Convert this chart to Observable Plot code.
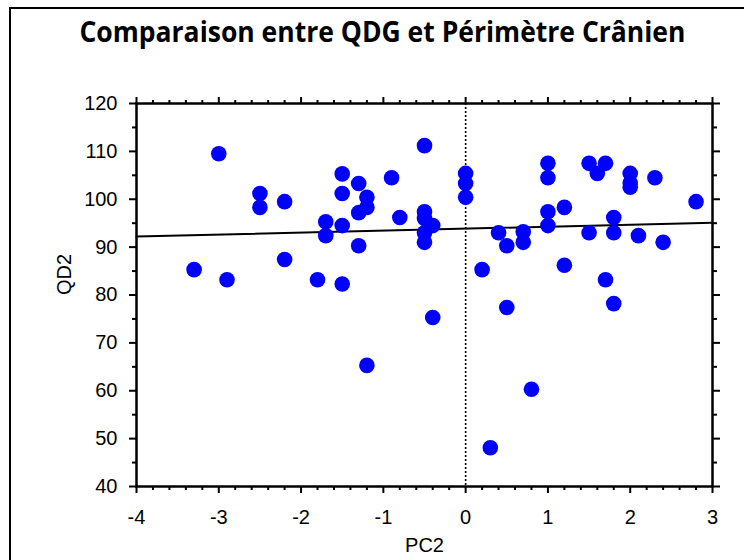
<!DOCTYPE html>
<html>
<head>
<meta charset="utf-8">
<script src="https://cdn.jsdelivr.net/npm/d3@7"></script>
<script src="https://cdn.jsdelivr.net/npm/@observablehq/plot@0.6"></script>
<style>
  html, body { margin: 0; padding: 0; background: #fff; overflow: hidden; }
  #wrap { position: relative; width: 744px; height: 560px; overflow: hidden; background: #fff; }
  #border { position: absolute; left: 9px; top: 7px; width: 900px; height: 700px; border-left: 2.5px solid #000; border-top: 2.5px solid #000; }
  #title { position: absolute; top: 13px; left: 0; width: 764px; text-align: center; white-space: nowrap;
           font-family: "Open Sans", sans-serif; font-weight: 700; font-size: 29px; line-height: 36px; color: #000; }
  #title span { display: inline-block; transform-origin: center; }
  #chart { position: absolute; left: 0; top: 62px; }
</style>
</head>
<body>
<div id="wrap">
  <div id="border"></div>
  <div id="title"><span id="tt">Comparaison entre QDG et Périmètre Crânien</span></div>
  <div id="chart"></div>
</div>
<script>
// Data
const pc2 = [-3.0, -3.3, -2.9, -2.5, -2.5, -2.2, -2.2, -1.8, -1.7, -1.7,
             -1.5, -1.5, -1.5, -1.5, -1.3, -1.3, -1.3, -1.2, -1.2, -1.2,
             -0.9, -0.8, -0.5, -0.5, -0.5, -0.5, -0.5, -0.4, -0.4, 0.0,
             0.0, 0.0, 0.2, 0.3, 0.4, 0.5, 0.5, 0.7, 0.7, 0.8,
             1.0, 1.0, 1.0, 1.0, 1.2, 1.2, 1.5, 1.5, 1.6, 1.7,
             1.7, 1.8, 1.8, 1.8, 2.0, 2.0, 2.0, 2.1, 2.3, 2.4, 2.8];
const qd2 = [109.5, 85.3, 83.2, 101.2, 98.3, 99.5, 87.4, 83.2, 95.3, 92.4,
             105.3, 101.2, 94.5, 82.3, 103.3, 97.2, 90.3, 100.4, 98.3, 65.3,
             104.5, 96.2, 111.2, 97.4, 96.0, 93.0, 91.0, 94.5, 75.3, 105.4,
             103.3, 100.4, 85.3, 48.1, 93.0, 90.3, 77.4, 93.2, 91.0, 60.3,
             107.5, 104.5, 97.4, 94.5, 98.3, 86.2, 107.5, 93.0, 105.4, 107.5,
             83.2, 96.2, 93.0, 78.2, 105.4, 103.4, 102.5, 92.4, 104.5, 91.0, 99.5];
// Regression line shown in the reference (QD2 = a + b * PC2)
const fitIntercept = 93.85;
const fitSlope = 0.414;
const fitX = [-4, 3];

const xTicks = [-4, -3, -2, -1, 0, 1, 2, 3];
const xMinorTicks = [-3.8, -3.6, -3.4, -3.2, -2.8, -2.6, -2.4, -2.2, -1.8, -1.6, -1.4, -1.2,
                     -0.8, -0.6, -0.4, -0.2, 0.2, 0.4, 0.6, 0.8, 1.2, 1.4, 1.6, 1.8, 2.2, 2.4, 2.6, 2.8];
const yTicks = [40, 50, 60, 70, 80, 90, 100, 110, 120];
const yMinorTicks = [45, 55, 65, 75, 85, 95, 105, 115];
const xLabel = "PC2";
const yLabel = "QD2";

const points = pc2.map((x, i) => ({x, y: qd2[i]}));
const fitLine = fitX.map(x => ({x, y: fitIntercept + fitSlope * x}));

const chart = Plot.plot({
  width: 744,
  height: 498,
  marginLeft: 136,
  marginRight: 32,
  marginTop: 41,
  marginBottom: 74,
  style: {fontFamily: "'Liberation Sans', Arial, sans-serif", fontSize: "20px", background: "transparent", color: "#000", overflow: "visible"},
  x: {domain: [-4, 3]},
  y: {domain: [40, 120]},
  marks: [
    Plot.ruleX([0], {stroke: "#000", strokeWidth: 1.6, strokeDasharray: "2,2"}),
    Plot.line(fitLine, {x: "x", y: "y", stroke: "#000", strokeWidth: 2}),
    Plot.dot(points, {x: "x", y: "y", r: 7.8, fill: "#0000ff", stroke: "none"}),
    Plot.frame({stroke: "#000", strokeWidth: 2.5}),
    Plot.axisX(xMinorTicks, {anchor: "bottom", tickSize: 4, strokeWidth: 2, text: null, label: null}),
    Plot.axisX(xTicks, {anchor: "bottom", tickSize: 7, strokeWidth: 2, tickPadding: 16, tickFormat: d => String(d).replace("−", "-"), label: null}),
    Plot.axisX(xMinorTicks, {anchor: "top", tickSize: 4, strokeWidth: 2, text: null, label: null}),
    Plot.axisX(xTicks, {anchor: "top", tickSize: 7, strokeWidth: 2, text: null, label: null}),
    Plot.axisY(yMinorTicks, {anchor: "left", tickSize: 4, strokeWidth: 2, text: null, label: null}),
    Plot.axisY(yTicks, {anchor: "left", tickSize: 7, strokeWidth: 2, tickPadding: 12, label: null}),
    Plot.axisY(yMinorTicks, {anchor: "right", tickSize: 4, strokeWidth: 2, text: null, label: null}),
    Plot.axisY(yTicks, {anchor: "right", tickSize: 7, strokeWidth: 2, text: null, label: null}),
    Plot.text([xLabel], {frameAnchor: "bottom", dy: 59, lineAnchor: "middle", fontSize: 20}),
    Plot.text([yLabel], {frameAnchor: "left", dx: -72, rotate: -90, lineAnchor: "middle", fontSize: 20})
  ]
});
document.getElementById("chart").appendChild(chart);

// Fit the title's width to the reference (about 606px)
const tt = document.getElementById("tt");
const w = tt.getBoundingClientRect().width;
tt.style.transform = `scaleX(${606 / w})`;
</script>
</body>
</html>
